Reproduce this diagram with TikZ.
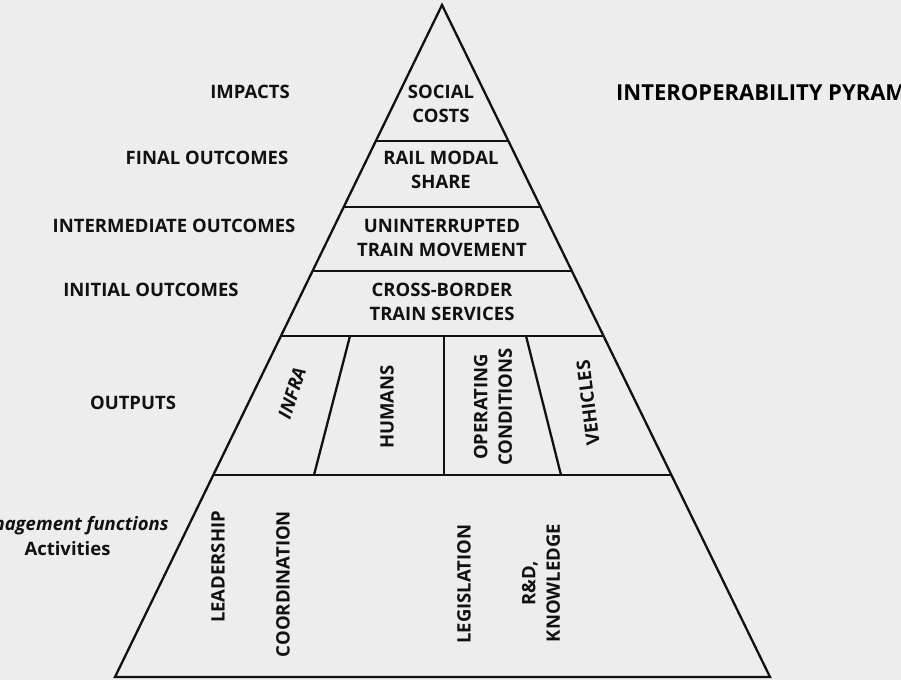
\documentclass[tikz,border=0pt]{standalone}
\usepackage{fontspec}
\setmainfont{Open Sans}
\usetikzlibrary{calc}
\definecolor{bg}{HTML}{EDEDED}
\definecolor{ink}{HTML}{111111}
\tikzset{
  lbl/.style={font=\fontsize{18.5}{24.5}\selectfont\bfseries, text=ink, align=center, inner sep=0pt},
  ilbl/.style={lbl, font=\fontsize{18.5}{24.5}\selectfont\bfseries\itshape},
  ttl/.style={lbl, font=\fontsize{22}{26}\selectfont\bfseries, text=black},
  edge/.style={draw=ink, line width=2.3pt, line join=miter},
}
\begin{document}
\begin{tikzpicture}[x=1pt,y=-1pt]
\fill[bg] (0,0) rectangle (901,680);
\useasboundingbox (0,0) rectangle (901,680);
% pyramid corners
\coordinate (A) at (442,5);
\coordinate (L) at (115,677);
\coordinate (R) at (770,677);
% level lines
\foreach \n/\t in {a/0.2024,b/0.3006,c/0.3958,d/0.4926,e/0.6994}{
  \coordinate (\n L) at ($(A)!\t!(L)$);
  \coordinate (\n R) at ($(A)!\t!(R)$);
}
\draw[edge] (A) -- (L) -- (R) -- cycle;
\draw[edge] (aL) -- (aR);
\draw[edge] (bL) -- (bR);
\draw[edge] (cL) -- (cR);
\draw[edge] (dL) -- (dR);
\draw[edge] (eL) -- (eR);
% output dividers
\coordinate (d1t) at (350,336); \coordinate (d1b) at (314,475);
\coordinate (d2t) at (444,336); \coordinate (d2b) at (444,475);
\coordinate (d3t) at (526,336); \coordinate (d3b) at (561,475);
\draw[edge] (d1t) -- (d1b);
\draw[edge] (d2t) -- (d2b);
\draw[edge] (d3t) -- (d3b);
% pyramid texts
\node[lbl] (social) at (441,104) {SOCIAL\\COSTS};
\node[lbl] (rail) at (441,170) {RAIL MODAL\\SHARE};
\node[lbl] (unint) at (442,238) {UNINTERRUPTED\\TRAIN MOVEMENT};
\node[lbl] (cross) at (442,302) {CROSS-BORDER\\TRAIN SERVICES};
\node[ilbl, rotate=72] (infra) at (292,393) {INFRA};
\node[lbl, rotate=90] (humans) at (387,407) {HUMANS};
\node[lbl, rotate=90] (opcond) at (493,407) {OPERATING\\CONDITIONS};
\node[lbl, rotate=97] (vehicles) at (588,403) {VEHICLES};
\node[lbl, rotate=90] (lead) at (218,567) {LEADERSHIP};
\node[lbl, rotate=90] (coord) at (283,584) {COORDINATION};
\node[lbl, rotate=90] (legis) at (464,584) {LEGISLATION};
\node[lbl, rotate=90] (rnd) at (541,583) {R\&D,\\KNOWLEDGE};
% side labels
\node[lbl] (impacts) at (250,92) {IMPACTS};
\node[lbl] (final) at (207,158) {FINAL OUTCOMES};
\node[lbl] (inter) at (174,226) {INTERMEDIATE OUTCOMES};
\node[lbl] (initial) at (151,290) {INITIAL OUTCOMES};
\node[lbl] (outputs) at (133,403) {OUTPUTS};
\node[lbl] (activ) at (67.5,536) {{\itshape Management functions}\\Activities};
\node[ttl, anchor=west] (title) at (616,93) {INTEROPERABILITY PYRAMID};
\end{tikzpicture}
\end{document}
